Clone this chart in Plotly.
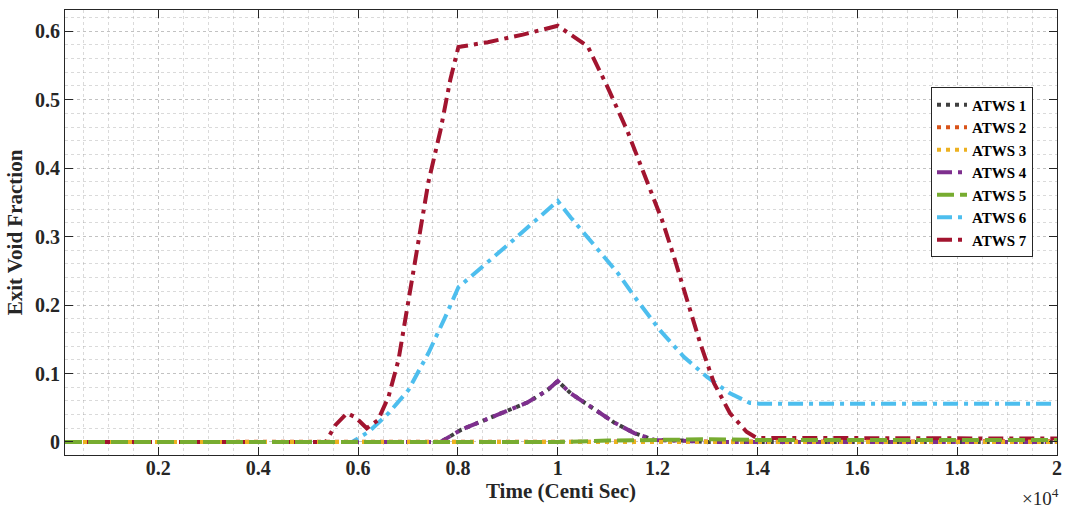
import plotly.graph_objects as go

# ---------------- data ----------------
names = ["ATWS 1", "ATWS 2", "ATWS 3", "ATWS 4", "ATWS 5", "ATWS 6", "ATWS 7"]

t1 = [130, 7650, 8070, 8470, 8860, 9400, 9800, 10000, 10260, 10740, 11140, 11530, 11930, 12500, 13000, 20000]
v1 = [0, 0, 0.018, 0.030, 0.042, 0.058, 0.076, 0.089, 0.071, 0.047, 0.028, 0.013, 0.003, 0.002, 0.0, 0.0]

t2 = [130, 10000, 12000, 20000]
v2 = [0, 0, 0.001, 0.001]

t3 = [130, 20000]
v3 = [0, 0]

t4 = [130, 7650, 8070, 8470, 8860, 9400, 9800, 10000, 10260, 10740, 11140, 11530, 11930, 12500, 13000, 20000]
v4 = [0, 0, 0.018, 0.030, 0.042, 0.058, 0.076, 0.089, 0.071, 0.047, 0.028, 0.013, 0.003, 0.002, 0.0, 0.0]

t5 = [130, 10000, 11000, 12000, 13000, 14000, 20000]
v5 = [0, 0, 0.002, 0.003, 0.004, 0.003, 0.003]

t6 = [130, 5880, 6215, 6610, 7010, 7410, 7750, 8010, 9000, 10000, 10260, 11200, 11590, 12050, 12530, 12990, 13450, 13850, 14040, 20000]
v6 = [0, 0, 0.015, 0.042, 0.076, 0.130, 0.183, 0.226, 0.288, 0.352, 0.328, 0.247, 0.207, 0.163, 0.124, 0.095, 0.071, 0.057, 0.056, 0.056]

t7 = [130, 5350, 5550, 5780, 5950, 6175, 6400, 6610, 6810, 7010, 7410, 7650, 7850, 8010, 8600, 9300, 10000, 10600, 11000, 11390, 11790, 12090, 12330, 12590, 12850, 13130, 13450, 13780, 13980, 20000]
v7 = [0, 0, 0.025, 0.042, 0.036, 0.020, 0.032, 0.066, 0.120, 0.207, 0.380, 0.455, 0.530, 0.577, 0.584, 0.595, 0.608, 0.578, 0.518, 0.455, 0.382, 0.324, 0.270, 0.207, 0.145, 0.086, 0.042, 0.015, 0.006, 0.005]

x_tick_vals = [2000, 4000, 6000, 8000, 10000, 12000, 14000, 16000, 18000, 20000]
x_tick_text = ["0.2", "0.4", "0.6", "0.8", "1", "1.2", "1.4", "1.6", "1.8", "2"]
y_tick_vals = [0, 0.1, 0.2, 0.3, 0.4, 0.5, 0.6]
y_tick_text = ["0", "0.1", "0.2", "0.3", "0.4", "0.5", "0.6"]

# ---------------- styles ----------------
colors = ["#404040", "#D95319", "#EDB120", "#7E2F8E", "#77AC30", "#4DBEEE", "#A2142F"]
DOT = "4px,5px"
DASHDOT = "15px,6px,4px,6px"
DASH = "17px,6px"
dashes = [DOT, DOT, DOT, DASHDOT, DASH, DASHDOT, DASHDOT]
series = [(t1, v1), (t2, v2), (t3, v3), (t4, v4), (t5, v5), (t6, v6), (t7, v7)]

FONT = "Liberation Serif"
fig = go.Figure()

# drawing order (legend order kept via legendrank)
draw_order = [0, 3, 5, 6, 1, 2, 4]
for i in draw_order:
    t, v = series[i]
    fig.add_trace(go.Scatter(
        x=t, y=v, mode="lines", name=names[i], legendrank=i + 1,
        line=dict(color=colors[i], width=4, dash=dashes[i]),
    ))

grid_col = "rgba(150,150,150,0.35)"
axis_col = "#262626"

fig.update_layout(
    width=1068, height=512,
    margin=dict(l=65, r=6, t=10, b=57),
    paper_bgcolor="white", plot_bgcolor="white",
    font=dict(family=FONT, size=20, color="#262626"),
    showlegend=True,
    legend=dict(
        x=0.873, y=0.826, xanchor="left", yanchor="top",
        bgcolor="white", bordercolor=axis_col, borderwidth=1,
        font=dict(family=FONT, size=15, color="black", weight="bold"),
        tracegroupgap=0, itemwidth=30,
    ),
    annotations=[dict(
        text="×10<sup>4</sup>", xref="paper", yref="paper",
        x=1.0, y=-0.095, xanchor="right", yanchor="middle", xshift=4,
        showarrow=False, font=dict(family=FONT, size=19, color="#262626"),
    )],
)

fig.update_xaxes(
    range=[130, 20000],
    tickvals=x_tick_vals, ticktext=x_tick_text,
    tickfont=dict(family=FONT, size=20, weight="bold", color="#262626"),
    ticks="inside", ticklen=8, tickcolor=axis_col, tickwidth=1,
    ticklabelstandoff=-5,
    showline=True, linecolor=axis_col, linewidth=1, mirror="ticks",
    showgrid=True, gridcolor=grid_col, griddash="dot", gridwidth=1,
    minor=dict(dtick=500, tick0=0, showgrid=True, gridcolor=grid_col, griddash="dot", ticks=""),
    zeroline=False,
    title=dict(text="Time (Centi Sec)", font=dict(family=FONT, size=21, weight="bold", color="#262626"), standoff=4),
)
fig.update_yaxes(
    range=[-0.019, 0.631],
    tickvals=y_tick_vals, ticktext=y_tick_text,
    tickfont=dict(family=FONT, size=20, weight="bold", color="#262626"),
    ticks="inside", ticklen=8, tickcolor=axis_col, tickwidth=1,
    showline=True, linecolor=axis_col, linewidth=1, mirror="ticks",
    showgrid=True, gridcolor=grid_col, griddash="dot", gridwidth=1,
    minor=dict(dtick=0.02, tick0=0, showgrid=True, gridcolor=grid_col, griddash="dot", ticks=""),
    zeroline=False,
    title=dict(text="Exit Void Fraction", font=dict(family=FONT, size=21, weight="bold", color="#262626"), standoff=6),
)

fig.write_html(
    "out.html",
    config={"displayModeBar": False},
    post_script="document.body.style.margin='0';document.body.style.padding='0';",
)
